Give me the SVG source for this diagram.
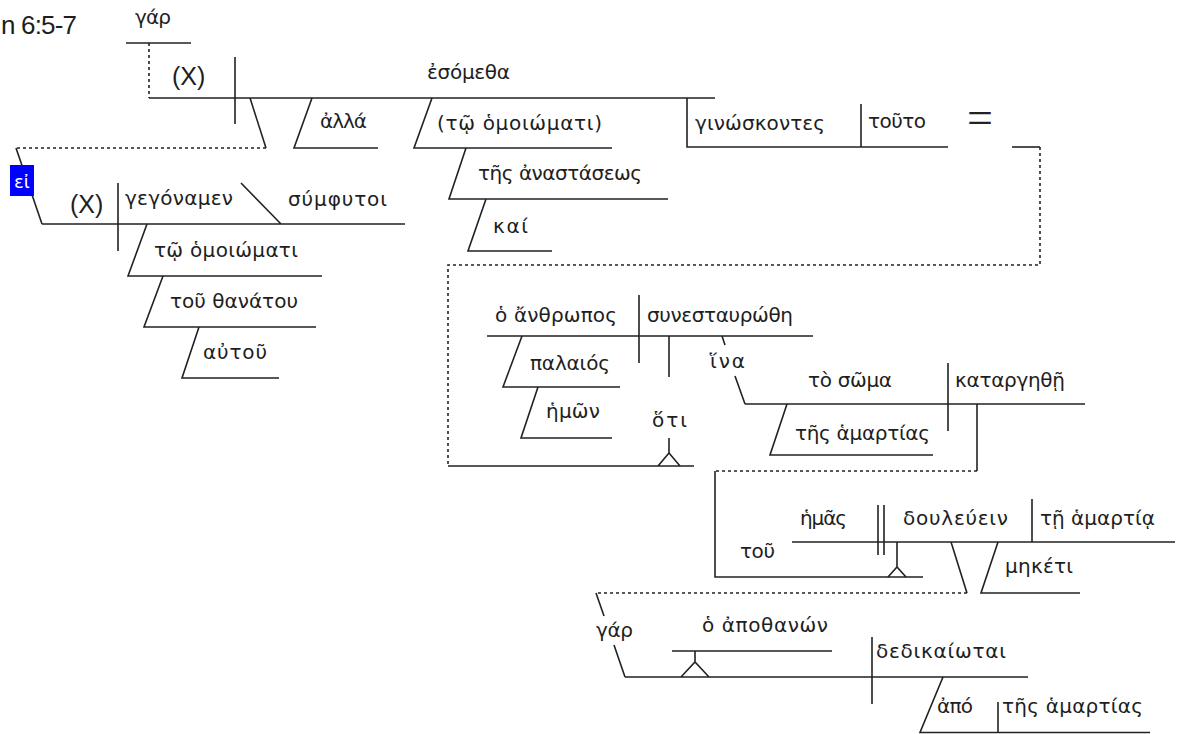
<svg xmlns="http://www.w3.org/2000/svg" width="1180" height="734" viewBox="0 0 1180 734">
<style>
.l{stroke:#222;stroke-width:1.6;fill:none}
.d{stroke:#222;stroke-width:1.6;fill:none;stroke-dasharray:3 3}
.g{font-family:"DejaVu Sans","Noto Sans",sans-serif;font-size:20px;fill:#1e1e1e}
.a{font-family:"Liberation Sans",Arial,sans-serif;fill:#1e1e1e}
</style>
<rect width="1180" height="734" fill="#fff"/>
<text class="a" x="1" y="34" font-size="26" textLength="76" lengthAdjust="spacing">n 6:5-7</text>

<g id="connectors">
  <path class="l" d="M250,98 L266,148"/>
  <path class="d" d="M266,148 H16"/>
  <path class="l" d="M16,148 L42,224"/>
  <path class="l" d="M1012,147 H1040"/>
  <path class="d" d="M1040,147 V265 H448 V466"/>
  <path class="l" d="M977,404 V471"/>
  <path class="d" d="M977,471 H715"/>
  <path class="l" d="M715,471 V577 H923"/>
  <path class="l" d="M951,542 L967,593"/>
  <path class="d" d="M967,593 H596"/>
  <path class="l" d="M596,593 L604,616 M614,645 L625,677"/>
  <path class="d" d="M149,43 V98"/>
</g>

<g id="gar-1">
  <path class="l" d="M126,43 H191"/>
  <text class="g" x="135" y="24" textLength="36">γάρ</text>
</g>

<g id="clause-esometha">
  <path class="l" d="M149,98 H715 M235,57 V124"/>
  <text class="a" x="172" y="85" font-size="25">(X)</text>
  <text class="g" x="427" y="79" textLength="83">ἐσόμεθα</text>
</g>

<g id="alla">
  <path class="l" d="M312,98 L294,148 H378"/>
  <text class="g" x="320" y="128" textLength="47">ἀλλά</text>
</g>

<g id="to-homoiomati-1">
  <path class="l" d="M432,98 L414,148 H612"/>
  <text class="g" x="437" y="130" textLength="165">(τῷ ὁμοιώματι)</text>
</g>
<g id="tes-anastaseos">
  <path class="l" d="M466,148 L449,199 H668"/>
  <text class="g" x="478" y="180" textLength="164">τῆς ἀναστάσεως</text>
</g>
<g id="kai">
  <path class="l" d="M486,199 L468,251 H552"/>
  <text class="g" x="493" y="233" textLength="35">καί</text>
</g>

<g id="ginoskontes">
  <path class="l" d="M687,98 V147 H948 M861,104 V147"/>
  <text class="g" x="695" y="130" textLength="130">γινώσκοντες</text>
  <text class="g" x="868" y="128" textLength="58">τοῦτο</text>
  <text x="967" y="133" font-family="Liberation Serif, serif" font-size="46" fill="#222">=</text>
</g>

<g id="ei">
  <rect x="10" y="165" width="24" height="31" fill="#0000ff"/>
  <text x="22" y="188" text-anchor="middle" font-family="DejaVu Sans, sans-serif" font-size="18" fill="#fff">εἰ</text>
</g>

<g id="clause-gegonamen">
  <path class="l" d="M42,224 H405 M118,183 V251 M241,183 L281,224"/>
  <text class="a" x="70" y="213" font-size="25">(X)</text>
  <text class="g" x="125" y="205" textLength="108">γεγόναμεν</text>
  <text class="g" x="288" y="206" textLength="99">σύμφυτοι</text>
</g>
<g id="to-homoiomati-2">
  <path class="l" d="M147,224 L128,276 H322"/>
  <text class="g" x="154" y="257" textLength="144">τῷ ὁμοιώματι</text>
</g>
<g id="tou-thanatou">
  <path class="l" d="M163,276 L144,327 H316"/>
  <text class="g" x="170" y="308" textLength="128">τοῦ θανάτου</text>
</g>
<g id="autou">
  <path class="l" d="M199,327 L182,378 H279"/>
  <text class="g" x="203" y="359" textLength="64">αὐτοῦ</text>
</g>

<g id="clause-synestaurothe">
  <path class="l" d="M487,336 H813 M639,295 V363"/>
  <text class="g" x="495" y="322" textLength="122">ὁ ἄνθρωπος</text>
  <text class="g" x="647" y="322" textLength="146">συνεσταυρώθη</text>
</g>
<g id="palaios">
  <path class="l" d="M522,336 L503,387 H620"/>
  <text class="g" x="530" y="370" textLength="80">παλαιός</text>
</g>
<g id="hemon">
  <path class="l" d="M538,387 L521,438 H612"/>
  <text class="g" x="546" y="418" textLength="54">ἡμῶν</text>
</g>
<g id="hoti">
  <path class="l" d="M669,336 V377 M669,438 V453 M658,466 L669,453 L680,466 M448,466 H694"/>
  <text class="g" x="652" y="427" textLength="35">ὅτι</text>
</g>

<g id="hina">
  <path class="l" d="M722,336 L725,345 M735,376 L745,404"/>
  <text class="g" x="710" y="368" textLength="35">ἵνα</text>
</g>
<g id="clause-katargethe">
  <path class="l" d="M745,404 H1085 M948,363 V431"/>
  <text class="g" x="808" y="387" textLength="84">τὸ σῶμα</text>
  <text class="g" x="955" y="387" textLength="110">καταργηθῇ</text>
</g>
<g id="tes-hamartias-1">
  <path class="l" d="M787,404 L770,455 H933"/>
  <text class="g" x="795" y="440" textLength="135">τῆς ἁμαρτίας</text>
</g>

<g id="clause-douleuein">
  <path class="l" d="M792,542 H1175 M878,505 V555 M884,505 V555 M1032,499 V542 M897,542 V567 M888,577 L897,567 L906,577"/>
  <text class="g" x="740" y="558" textLength="35">τοῦ</text>
  <text class="g" x="800" y="525" textLength="47">ἡμᾶς</text>
  <text class="g" x="903" y="525" textLength="105">δουλεύειν</text>
  <text class="g" x="1040" y="525" textLength="115">τῇ ἁμαρτίᾳ</text>
</g>
<g id="meketi">
  <path class="l" d="M998,542 L981,593 H1080"/>
  <text class="g" x="1005" y="573" textLength="68">μηκέτι</text>
</g>

<g id="gar-2">
  <text class="g" x="596" y="637" textLength="37">γάρ</text>
</g>
<g id="clause-dedikaiotai">
  <path class="l" d="M625,677 H1028 M872,637 V704 M672,651 H832 M695,651 V662 M681,677 L695,662 L709,677"/>
  <text class="g" x="702" y="632" textLength="126">ὁ ἀποθανών</text>
  <text class="g" x="876" y="658" textLength="130">δεδικαίωται</text>
</g>
<g id="apo">
  <path class="l" d="M943,677 L920,732.5 H1150 M998,702 V733"/>
  <text class="g" x="937" y="713" textLength="36">ἀπό</text>
  <text class="g" x="1002" y="713" textLength="141">τῆς ἁμαρτίας</text>
</g>
</svg>
